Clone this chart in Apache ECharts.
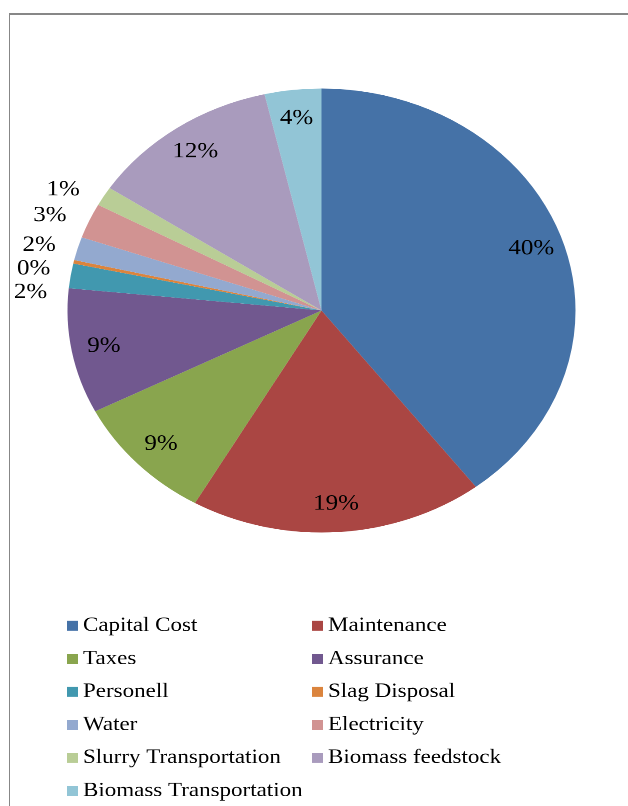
<!DOCTYPE html>
<html><head><meta charset="utf-8">
<script src="https://cdn.jsdelivr.net/npm/echarts@6/dist/echarts.min.js"></script>
<style>
html,body{margin:0;padding:0;background:#fff;width:628px;height:806px;overflow:hidden;}
#frame{position:absolute;left:9px;top:13px;width:700px;height:900px;border-top:2px solid #878787;border-left:1px solid #878787;}
#chart{position:absolute;left:0;top:0;width:628px;height:922px;transform:scaleY(0.874);transform-origin:0 0;}
</style></head><body>
<div id="frame"></div><div id="chart"></div>
<script>
const categories = ['Capital Cost','Maintenance','Taxes','Assurance','Personell','Slag Disposal','Water','Electricity','Slurry Transportation','Biomass feedstock','Biomass Transportation'];
const values = [39.6, 18.7, 9.2, 9.1, 1.8, 0.25, 1.7, 2.55, 1.4, 12.1, 3.6];
const colors = ['#4572A7','#AA4643','#89A54E','#71588F','#4198AF','#DB843D','#93A9CF','#D19392','#B9CD96','#A99BBD','#92C5D6'];
const labelInside = [true,true,true,true,false,false,false,false,false,true,true];

const total = values.reduce((a,b)=>a+b,0);
const pctText = v => Math.round(v/total*100) + '%';
const font = "'Times New Roman', 'Liberation Serif', serif";

const chart = echarts.init(document.getElementById('chart'), null, {renderer:'canvas', devicePixelRatio:2});
const center = [321.5, 355.3];
const R = 254;

const mainData = categories.map((c,i)=>({name:c, value:values[i], itemStyle:{color:colors[i]}}));
const labelData = categories.map((c,i)=>({
  name:c, value:values[i],
  label: labelInside[i] ? {position:'inside'} : {position:'outside', padding:[8,0]}
}));

const col1 = categories.filter((c,i)=>i%2===0);
const col2 = categories.filter((c,i)=>i%2===1);
const legendText = {fontFamily:font, fontSize:23, color:'#000', lineHeight:24};
const legendBase = {
  orient:'vertical', top:704, padding:0, itemWidth:11, itemHeight:11.4, itemGap:13.8,
  icon:'rect', selectedMode:false, textStyle:legendText
};

chart.setOption({
  animation:false,
  textStyle:{fontFamily:font},
  color: colors,
  legend:[
    Object.assign({}, legendBase, {left:67, data:col1.map(n=>({name:n, textStyle:legendText}))}),
    Object.assign({}, legendBase, {left:312, data:col2.map(n=>({name:n, textStyle:legendText}))})
  ],
  series:[
    {
      type:'pie', center:center, radius:[0,R], startAngle:90, clockwise:true,
      silent:true, label:{show:false}, labelLine:{show:false},
      data: mainData
    },
    {
      type:'pie', center:center, radius:[0.72*R,R], startAngle:90, clockwise:true,
      silent:true, itemStyle:{color:'rgba(0,0,0,0)'},
      label:{show:true, formatter: p=>pctText(p.value), fontFamily:font, fontSize:25, color:'#000'},
      labelLine:{show:false, length:15, length2:6},
      data: labelData
    }
  ]
});
</script>
</body></html>
